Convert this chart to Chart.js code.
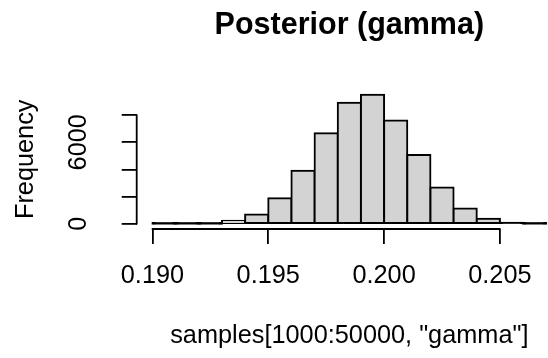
<!DOCTYPE html>
<html><head><meta charset="utf-8">
<script src="https://cdn.jsdelivr.net/npm/chart.js@4"></script>
<style>
html,body{margin:0;padding:0;overflow:hidden;background:#fff;width:548px;height:358px}
#wrap{position:relative;width:562px;height:358px}
</style></head>
<body><div id="wrap"><canvas id="c"></canvas></div>
<script>
// ---- data ----
const binEdges = [0.190,0.191,0.192,0.193,0.194,0.195,0.196,0.197,0.198,0.199,0.200,0.201,0.202,0.203,0.204,0.205,0.206,0.207];
const counts   = [15,15,5,220,680,1890,3914,6670,8907,9498,7607,5067,2681,1120,375,80,10];
const xTicks = [0.190,0.195,0.200,0.205];
const xTickLabels = ['0.190','0.195','0.200','0.205'];
const yTicks = [0,2000,4000,6000,8000];
const yTickLabels = ['0','','','6000',''];
const titleText = 'Posterior (gamma)';
const xLabel = 'samples[1000:50000, "gamma"]';
const yLabel = 'Frequency';

const FONT = 'Liberation Sans, Arial, Helvetica, sans-serif';
const LW = 1.8;

const points = counts.map((c,i)=>({x:(binEdges[i]+binEdges[i+1])/2, y:c}));
const xr = binEdges[binEdges.length-1]-binEdges[0];
const xMin = binEdges[0]-0.04*xr, xMax = binEdges[binEdges.length-1]+0.04*xr;
const yTop = Math.max(...counts);
const yMin = -0.04*yTop, yMax = 1.04*yTop;

const axisLines = {
  id:'axisLines',
  afterDraw(chart){
    const {ctx, chartArea, scales:{x,y}} = chart;
    ctx.save();
    ctx.strokeStyle='#000'; ctx.lineWidth=LW; ctx.lineCap='round';
    ctx.beginPath();
    ctx.moveTo(x.getPixelForValue(xTicks[0]), chartArea.bottom);
    ctx.lineTo(x.getPixelForValue(xTicks[xTicks.length-1]), chartArea.bottom);
    ctx.moveTo(chartArea.left, y.getPixelForValue(yTicks[0]));
    ctx.lineTo(chartArea.left, y.getPixelForValue(yTicks[yTicks.length-1]));
    ctx.stroke();
    ctx.restore();
  }
};

new Chart(document.getElementById('c'), {
  type:'bar',
  data:{datasets:[{
    data:points,
    backgroundColor:(ctx)=>{
      const ys = ctx.chart.scales.y;
      if(!ys || !ctx.parsed) return '#D3D3D3';
      const h = Math.abs(ys.getPixelForValue(0)-ys.getPixelForValue(ctx.parsed.y));
      return h < 2 ? '#000000' : '#D3D3D3';
    },
    borderColor:'#000000',
    borderWidth:2,
    borderSkipped:false,
    inflateAmount:1,
    barPercentage:1,
    categoryPercentage:1
  }]},
  options:{
    responsive:true, maintainAspectRatio:false, animation:false,
    layout:{padding:0},
    plugins:{
      legend:{display:false}, tooltip:{enabled:false},
      title:{display:true, text:titleText, color:'#000', fullSize:false,
        font:{family:FONT, size:30.5, weight:'bold', lineHeight:1},
        padding:{top:10.75, bottom:48.35}}
    },
    scales:{
      x:{type:'linear', min:xMin, max:xMax, offset:false,
        afterBuildTicks:(s)=>{s.ticks = xTicks.map(v=>({value:v}));},
        afterFit:(s)=>{s.height = 129;},
        border:{display:false},
        grid:{display:true, drawOnChartArea:false, drawTicks:true, tickLength:15, color:'#000', lineWidth:LW, offset:false},
        ticks:{color:'#000', font:{family:FONT, size:25.3, lineHeight:1}, padding:19, maxRotation:0, minRotation:0, autoSkip:false,
          callback:(v,i)=>xTickLabels[i]},
        title:{display:true, text:xLabel, color:'#000', font:{family:FONT, size:25.3, lineHeight:1}, padding:{top:0,bottom:9.35}}
      },
      y:{type:'linear', min:yMin, max:yMax,
        afterBuildTicks:(s)=>{s.ticks = yTicks.map(v=>({value:v}));},
        afterFit:(s)=>{s.width = 136.7;},
        border:{display:false},
        grid:{display:true, drawOnChartArea:false, drawTicks:true, tickLength:15, color:'#000', lineWidth:LW},
        ticks:{color:'#000', font:{family:FONT, size:25.3, lineHeight:1}, padding:15, minRotation:90, maxRotation:90, crossAlign:'center', autoSkip:false,
          callback:(v,i)=>yTickLabels[i]},
        title:{display:true, text:yLabel, color:'#000', font:{family:FONT, size:25.3, lineHeight:1}, padding:{top:13.35,bottom:0}}
      }
    }
  },
  plugins:[axisLines]
});
</script>
</body></html>
